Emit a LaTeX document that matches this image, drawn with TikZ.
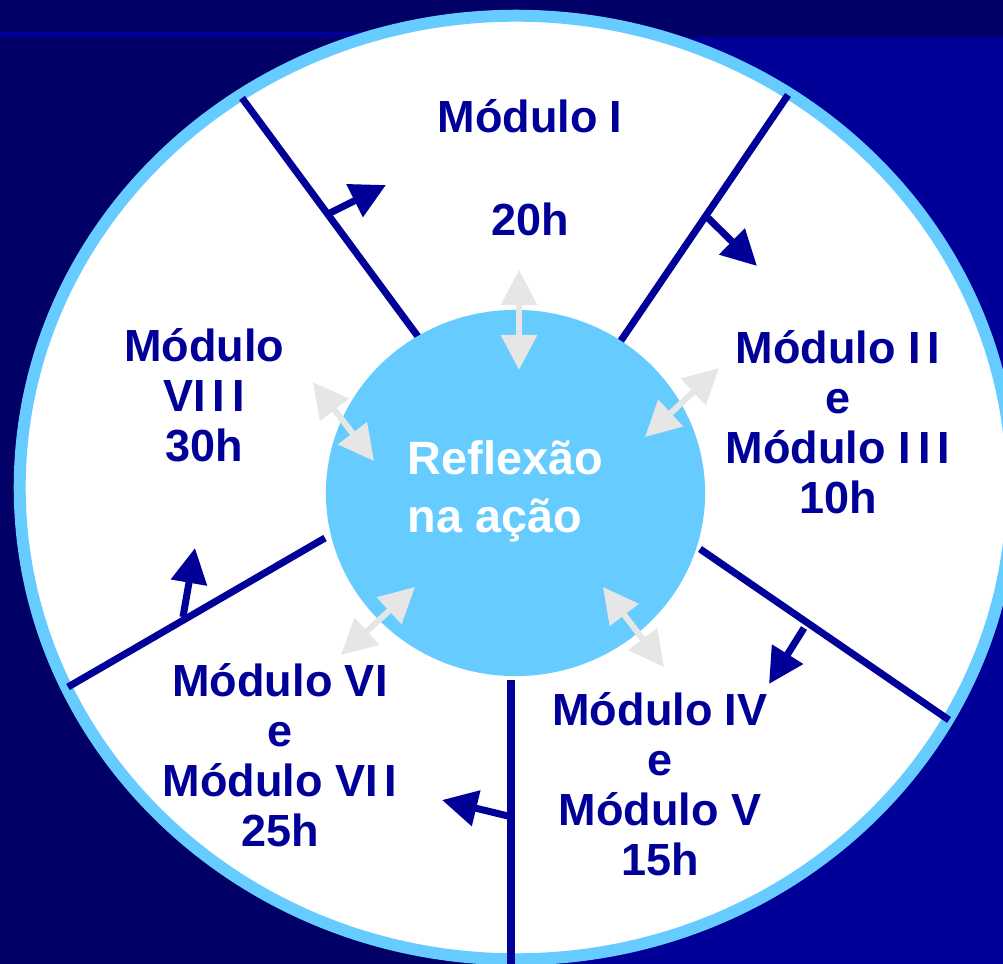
\documentclass[tikz,border=0pt]{standalone}
\usepackage{fontspec}
\setmainfont{Liberation Sans}
\usetikzlibrary{arrows.meta}
\usetikzlibrary{shapes.geometric}

\definecolor{navyink}{HTML}{000099}
\definecolor{deepnavy}{HTML}{000066}
\definecolor{skyring}{HTML}{66CCFF}
\definecolor{mistgrey}{HTML}{E6E6E6}
\newcommand{\modfont}{\fontsize{12.8}{14.2}\selectfont\bfseries}
\newcommand{\gapI}{\kern2pt}

\begin{document}
\begin{tikzpicture}[x=0.01cm,y=-0.01cm,>/.tip={Triangle[length=10pt,width=10pt]},
	divider/.style={navyink,line width=2pt},
	turn/.style={navyink,line width=2pt,->},
	echo/.style={mistgrey,line width=1.7pt,<->},
	modlabel/.style={text=navyink,font=\modfont,align=center,inner sep=0pt}]
	\useasboundingbox (0,0) rectangle (1003,964);
	\clip (0,0) rectangle (1003,964);
	\fill[navyink] (0,0) rectangle (1003,964);
	\fill[deepnavy] (0,0) rectangle (1003,37);
	\fill[navyink] (0,32) rectangle (516,37);
	\fill[deepnavy] (0,37) rectangle (516,964);
	\draw[skyring,fill=white,line width=3.4pt] (516,487.5) ellipse [x radius=4.96cm,y radius=4.715cm];

	% dividers between the modules
	\coordinate (nwOut) at (242,98);   \coordinate (nwIn) at (422,342);
	\coordinate (neOut) at (788,95);   \coordinate (neIn) at (620,342);
	\coordinate (seOut) at (949,720);  \coordinate (seIn) at (700,549);
	\coordinate (sOut) at (511,975);   \coordinate (sIn) at (511,680);
	\coordinate (swOut) at (68,687);   \coordinate (swIn) at (325,538);
	\draw[divider] (nwOut) -- (nwIn);
	\draw[divider] (neOut) -- (neIn);
	\draw[divider] (seOut) -- (seIn);
	\draw[divider] (sOut) -- (sIn);
	\draw[divider] (swOut) -- (swIn);

	\node (core) [ellipse,fill=skyring,minimum width=3.79cm,minimum height=3.66cm,inner sep=0pt] at (515.5,493) {};
	\node (reflex) [anchor=west,text=white,font=\fontsize{13.3}{16.5}\selectfont\bfseries,align=left,inner sep=0pt] at (407,491.5) {Reflexão\\na ação};

	\node (modI) [modlabel] at (530,167.5) {Módulo I\\[15.1pt]20h};
	\node (modII) [modlabel] at (838,422.5) {Módulo I\gapI I\\e\\Módulo I\gapI I\gapI I\\10h};
	\node (modIV) [modlabel] at (660,784.5) {Módulo IV\\e\\Módulo V\\15h};
	\node (modVI) [modlabel] at (280,755.5) {Módulo VI\\e\\Módulo VI\gapI I\\25h};
	\node (modVIII) [modlabel] at (204,395) {Módulo\\VI\gapI I\gapI I\\30h};

	% turning arrows on the dividers
	\coordinate (t1a) at (330,213);  \coordinate (t1b) at (386,185);
	\coordinate (t2a) at (708,218);  \coordinate (t2b) at (757,266);
	\coordinate (t3a) at (804,628);  \coordinate (t3b) at (769,684);
	\coordinate (t4a) at (508,816);  \coordinate (t4b) at (442,800);
	\coordinate (t5a) at (183,617);  \coordinate (t5b) at (195,548);
	\draw[turn] (t1a) -- (t1b);
	\draw[turn] (t2a) -- (t2b);
	\draw[turn] (t3a) -- (t3b);
	\draw[turn] (t4a) -- (t4b);
	\draw[turn] (t5a) -- (t5b);

	% reflection arrows
	\coordinate (e1a) at (519,270);  \coordinate (e1b) at (519,370);
	\coordinate (e2a) at (313,382);  \coordinate (e2b) at (374,461);
	\coordinate (e3a) at (719,368);  \coordinate (e3b) at (645,437);
	\coordinate (e4a) at (415,587);  \coordinate (e4b) at (341,655);
	\coordinate (e5a) at (603,587);  \coordinate (e5b) at (664,667);
	\draw[echo] (e1a) -- (e1b);
	\draw[echo] (e2a) -- (e2b);
	\draw[echo] (e3a) -- (e3b);
	\draw[echo] (e4a) -- (e4b);
	\draw[echo] (e5a) -- (e5b);
\end{tikzpicture}
\end{document}
